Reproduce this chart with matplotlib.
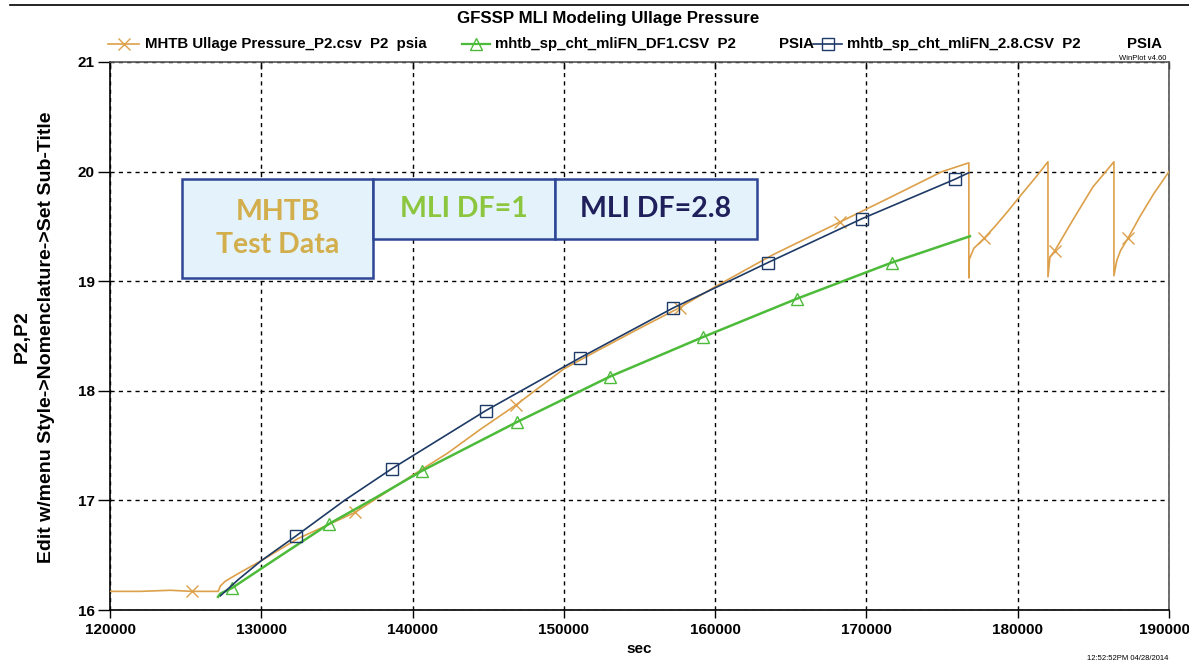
import matplotlib
matplotlib.use("Agg")
import matplotlib.pyplot as plt
from matplotlib.lines import Line2D
from matplotlib.patches import Rectangle
from matplotlib.transforms import ScaledTranslation

# ---------------- data ----------------
mhtb_t = [120000, 122000, 124000, 125420, 127150, 127300, 127600, 127950, 128700, 130000,
          132400, 136190, 140000, 142300, 144500, 146830, 150000, 152000, 155000, 157670,
          160000, 163800, 168250, 171500, 175000, 176770, 176770, 176800, 177100, 177770,
          178500, 179300, 180300, 181200, 182000, 182000, 182130, 182460, 183650, 184970,
          185700, 186360, 186360, 186550, 186800, 187280, 188080, 189000, 190000]
mhtb_p = [16.17, 16.17, 16.18, 16.17, 16.17, 16.22, 16.26, 16.29, 16.35, 16.45,
          16.65, 16.89, 17.23, 17.43, 17.65, 17.87, 18.20, 18.35, 18.57, 18.76,
          18.95, 19.24, 19.54, 19.76, 20.00, 20.08, 19.03, 19.20, 19.30, 19.39,
          19.50, 19.63, 19.80, 19.95, 20.09, 19.04, 19.22, 19.28, 19.56, 19.86,
          19.98, 20.09, 19.05, 19.19, 19.28, 19.39, 19.59, 19.80, 20.00]

df1_t = [127140, 127300, 128060, 131000, 134470, 137500, 140620, 146900, 153050, 159190,
         165400, 171680, 176840]
df1_p = [16.12, 16.15, 16.20, 16.47, 16.785, 17.02, 17.27, 17.715, 18.13, 18.49,
         18.84, 19.17, 19.41]

df28_t = [127300, 128500, 130000, 132290, 135500, 138640, 144850, 151060, 157210, 163490,
          169700, 175850, 176770]
df28_p = [16.13, 16.28, 16.45, 16.675, 17.00, 17.29, 17.82, 18.30, 18.755, 19.17,
          19.57, 19.93, 19.99]

x_ticks = [120000, 130000, 140000, 150000, 160000, 170000, 180000, 190000]
y_ticks = [16, 17, 18, 19, 20, 21]

legend_labels = ["MHTB Ullage Pressure_P2.csv  P2  psia",
                 "mhtb_sp_cht_mliFN_DF1.CSV  P2",
                 "mhtb_sp_cht_mliFN_2.8.CSV  P2"]
legend_units = ["", "PSIA", "PSIA"]
box_labels = ["MHTB\nTest Data", "MLI DF=1", "MLI DF=2.8"]

# ---------------- style ----------------
C_ORANGE = "#DDA04A"
C_GREEN = "#4DBB3A"
C_BLUE = "#1E3A66"

W, H = 1189, 665
plt.rcParams['font.family'] = ['Liberation Sans', 'DejaVu Sans']
fig = plt.figure(figsize=(W / 100, H / 100), dpi=100)
ax = fig.add_axes([110 / W, 1 - 610 / H, (1169 - 110) / W, (610 - 62) / H])

ax.plot(mhtb_t, mhtb_p, color=C_ORANGE, lw=1.2, marker='x', ms=9, mew=1.0,
        markevery=[3, 11, 15, 19, 22, 29, 37, 45], zorder=3)
ax.plot(df1_t, df1_p, color=C_GREEN, lw=1.8, marker='^', ms=8, mfc='none', mew=1.0,
        markevery=[2, 4, 6, 7, 8, 9, 10, 11], zorder=4)
ax.plot(df28_t, df28_p, color=C_BLUE, lw=1.2, marker='s', ms=8, mfc='none', mew=1.0,
        markevery=[3, 5, 6, 7, 8, 9, 10, 11], zorder=5)

ax.set_xlim(120000, 190000)
ax.set_ylim(16, 21)
ax.set_xticks(x_ticks)
ax.set_yticks(y_ticks)
ax.set_xticklabels([str(v) for v in x_ticks], fontsize=11, fontweight='bold')
ax.set_yticklabels([str(v) for v in y_ticks], fontsize=11, fontweight='bold')
ax.tick_params(axis='x', direction='out', length=6, width=1, pad=3, color='black')
ax.tick_params(axis='y', direction='out', length=9, width=1, pad=2, color='black')
last = ax.get_xticklabels()[-1]
last.set_transform(last.get_transform() + ScaledTranslation(-5 / 100, 0, fig.dpi_scale_trans))
ax.grid(True, color='black', linestyle=(0, (3, 3)), linewidth=1.0)
for s in ['left', 'bottom']:
    ax.spines[s].set_color('black')
    ax.spines[s].set_linewidth(1.2)
for s in ['top', 'right']:
    ax.spines[s].set_color('#555555')
    ax.spines[s].set_linewidth(1.2)

# small inward ticks along the top spine
top = ax.secondary_xaxis('top')
top.set_xticks(x_ticks)
top.set_xticklabels([])
top.tick_params(direction='in', length=5, width=1, color='black')
top.spines['top'].set_visible(False)

ax.set_xlabel("sec", fontsize=11, fontweight='bold', labelpad=4)
fig.text(22 / W, 1 - 337 / H, "P2,P2", rotation=90, fontsize=14, fontweight='bold',
         ha='center', va='center')
fig.text(47 / W, 1 - 337 / H, "Edit w/menu Style->Nomenclature->Set Sub-Title", rotation=90,
         fontsize=14, fontweight='bold', ha='center', va='center')

fig.text(608 / W, 1 - 18 / H, "GFSSP MLI Modeling Ullage Pressure", fontsize=12.2,
         fontweight='bold', ha='center', va='center')

# top separator line
fig.add_artist(Line2D([10 / W, 1], [1 - 5 / H, 1 - 5 / H], transform=fig.transFigure,
                      color='black', lw=1.2))

# legend (manual)
ly = 1 - 44 / H
specs = [(108, 139, 145, None, C_ORANGE, 'x', 1.2),
         (462, 490, 495, 779, C_GREEN, '^', 1.6),
         (813, 842, 847, 1127, C_BLUE, 's', 1.2)]
for (x0, x1, xt, xu, col, mk, lw), lab, unit in zip(specs, legend_labels, legend_units):
    fig.add_artist(Line2D([x0 / W, x1 / W], [ly, ly], transform=fig.transFigure,
                          color=col, lw=lw))
    fig.add_artist(Line2D([(x0 + x1) / 2 / W], [ly], transform=fig.transFigure,
                          color=col, marker=mk, ms=8, mfc='none', mew=1.0, lw=0))
    fig.text(xt / W, ly, lab, fontsize=10.8, fontweight='bold', ha='left', va='center')
    if xu is not None:
        fig.text(xu / W, ly, unit, fontsize=10.8, fontweight='bold', ha='left', va='center')

fig.text(1166 / W, 1 - 58 / H, "WinPlot v4.60", fontsize=5.5, ha='right', va='center')
fig.text(1168 / W, 1 - 658 / H, "12:52:52PM 04/28/2014", fontsize=5.5, ha='right', va='center')

# annotation boxes
boxes = [(182, 179, 373, 278, "#D2AE4C"),
         (373, 179, 555, 239, "#8CC63F"),
         (555, 179, 757, 239, "#1F1F5C")]
for (bx0, by0, bx1, by1, tcol), lab in zip(boxes, box_labels):
    fig.add_artist(Rectangle((bx0 / W, 1 - by1 / H), (bx1 - bx0) / W, (by1 - by0) / H,
                             transform=fig.transFigure, facecolor='#E4F3FB',
                             edgecolor='#2E4696', lw=1.8, zorder=10))
    fig.text((bx0 + bx1) / 2 / W, 1 - (by0 + by1) / 2 / H, lab, color=tcol,
             fontsize=20.5, fontweight='bold', ha='center', va='center',
             family=['Lato', 'DejaVu Sans'], linespacing=1.35, zorder=11)

fig.savefig("out.png", dpi=100)
